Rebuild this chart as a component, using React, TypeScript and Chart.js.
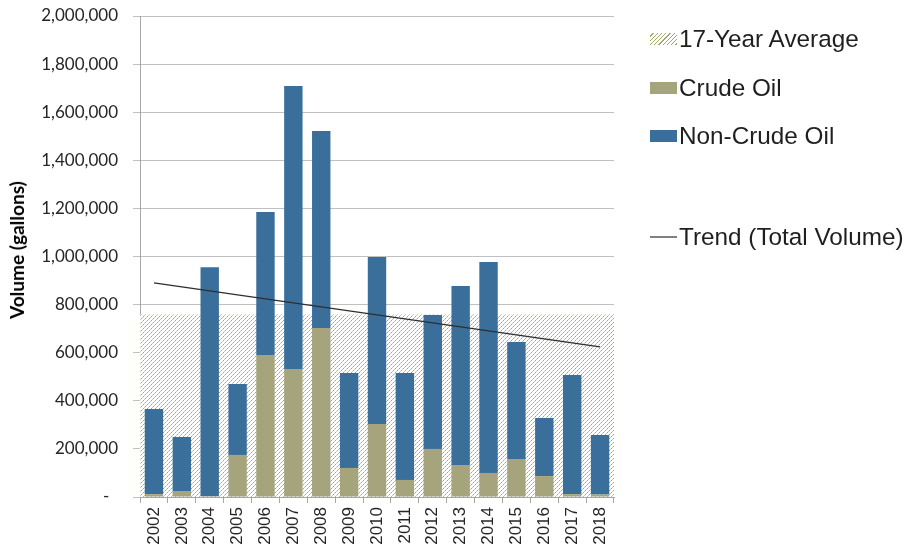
import React, { useEffect, useRef } from "react";
import { Chart, registerables } from "chart.js";

Chart.register(...registerables);

const years = ["2002", "2003", "2004", "2005", "2006", "2007", "2008", "2009", "2010", "2011", "2012", "2013", "2014", "2015", "2016", "2017", "2018"];
const crudeOil = [12000, 25000, 3000, 175000, 590000, 532000, 703000, 121000, 304000, 71000, 200000, 133000, 100000, 158000, 87000, 12000, 10000];
const nonCrudeOil = [354000, 225000, 952000, 295000, 595000, 1177000, 819000, 395000, 694000, 445000, 557000, 744000, 877000, 486000, 241000, 495000, 248000];
const seventeenYearAverage = 757000;
const trendStart = 890000;
const trendEnd = 624000;
const yTicks = [0, 200000, 400000, 600000, 800000, 1000000, 1200000, 1400000, 1600000, 1800000, 2000000];

const CRUDE = "#a6a47c";
const NONCRUDE = "#3a6f9b";
const HATCH = "#a3a86f";
const HATCH_LIGHT = "#c8cca6";

export default function App() {
  const ref = useRef<HTMLCanvasElement | null>(null);

  useEffect(() => {
    const canvas = ref.current;
    if (!canvas) return;
    const ctx = canvas.getContext("2d")!;
    const tile = document.createElement("canvas");
    tile.width = 4;
    tile.height = 4;
    const t = tile.getContext("2d")!;
    t.fillStyle = "#ffffff";
    t.fillRect(0, 0, 4, 4);
    for (let i = 0; i < 4; i++) {
      t.fillStyle = i % 2 === 0 ? HATCH : HATCH_LIGHT;
      t.fillRect(3 - i, i, 1, 1);
    }
    const pattern = ctx.createPattern(tile, "repeat")!;

    const chart = new Chart(canvas, {
      data: {
        labels: years,
        datasets: [
          {
            type: "bar",
            label: "Crude Oil",
            data: crudeOil,
            backgroundColor: CRUDE,
            stack: "vol",
            order: 1,
            grouped: false,
            barPercentage: 0.66,
            categoryPercentage: 1,
          },
          {
            type: "bar",
            label: "Non-Crude Oil",
            data: nonCrudeOil,
            backgroundColor: NONCRUDE,
            stack: "vol",
            order: 1,
            grouped: false,
            barPercentage: 0.66,
            categoryPercentage: 1,
          },
          {
            type: "bar",
            label: "17-Year Average",
            data: years.map(() => seventeenYearAverage),
            backgroundColor: pattern as any,
            xAxisID: "x2",
            stack: "avg",
            order: 3,
            grouped: false,
            barPercentage: 1,
            categoryPercentage: 1,
          },
          {
            type: "line",
            label: "Trend (Total Volume)",
            data: years.map((_, i) => (i === 0 ? trendStart : i === years.length - 1 ? trendEnd : null)),
            borderColor: "#2e2e2e",
            borderWidth: 1.3,
            pointRadius: 0,
            spanGaps: true,
            order: 0,
          },
        ],
      } as any,
      options: {
        responsive: false,
        animation: false,
        devicePixelRatio: 1,
        layout: { padding: { left: 0, top: 16, right: 299, bottom: 0 } },
        plugins: { legend: { display: false }, tooltip: { enabled: false } },
        scales: {
          x: {
            type: "category",
            stacked: true,
            offset: true,
            afterFit: (s: any) => {
              s.height = 55;
            },
            grid: {
              offset: true,
              drawOnChartArea: false,
              drawTicks: true,
              tickLength: 6,
              color: "#a6a6a6",
            },
            border: { color: "#a6a6a6" },
            ticks: {
              minRotation: 90,
              maxRotation: 90,
              autoSkip: false,
              padding: 4,
              color: "#262626",
              font: { family: "'Liberation Sans', Arial, sans-serif", size: 17 },
            },
          },
          x2: {
            type: "category",
            labels: years,
            stacked: true,
            offset: true,
            display: false,
            grid: { display: false },
          },
          y: {
            stacked: true,
            min: 0,
            max: 2000000,
            afterFit: (s: any) => {
              s.width = 140;
              s.paddingTop = 0;
              s.paddingBottom = 0;
            },
            afterBuildTicks: (s: any) => {
              s.ticks = yTicks.map((v) => ({ value: v }));
            },
            grid: { color: "#c0c0c0", tickLength: 7, lineWidth: 1 },
            border: { color: "#a6a6a6" },
            ticks: {
              padding: 15,
              color: "#262626",
              font: { family: "Lato, 'Open Sans', sans-serif", size: 17 },
              callback: (v: any) => (Number(v) === 0 ? "-  " : Number(v).toLocaleString("en-US")),
            },
            title: { display: false },
          },
        },
      } as any,
    });
    return () => chart.destroy();
  }, []);

  const legendFont: React.CSSProperties = {
    fontFamily: "'Liberation Sans', Arial, sans-serif",
    fontSize: 24.3,
    color: "#1f1f1f",
    lineHeight: "28px",
    whiteSpace: "nowrap",
  };
  const row = (top: number): React.CSSProperties => ({
    position: "absolute",
    left: 650,
    top,
    display: "flex",
    alignItems: "center",
    ...legendFont,
  });
  const sw = (bg: string): React.CSSProperties => ({
    width: 27,
    height: 12,
    background: bg,
    marginRight: 2,
    flex: "none",
  });

  return (
    <div style={{ position: "fixed", left: 0, top: 0, width: 913, height: 552, background: "#fff" }}>
      <canvas ref={ref} width={913} height={552} style={{ display: "block", width: 913, height: 552 }} />
      <div
        style={{
          position: "absolute",
          left: 17,
          top: 250,
          transform: "translate(-50%, -50%) rotate(-90deg)",
          fontFamily: "Lato, 'Open Sans', sans-serif",
          fontWeight: "bold",
          fontSize: 19,
          lineHeight: "22px",
          color: "#000",
          whiteSpace: "nowrap",
        }}
      >
        Volume (gallons)
      </div>
      <div style={row(25)}>
        <span style={sw(`repeating-linear-gradient(135deg, #ffffff 0px, #ffffff 2px, ${HATCH} 2px, ${HATCH} 3px)`)} />
        <span>17-Year Average</span>
      </div>
      <div style={row(74)}>
        <span style={sw(CRUDE)} />
        <span>Crude Oil</span>
      </div>
      <div style={row(122)}>
        <span style={sw(NONCRUDE)} />
        <span>Non-Crude Oil</span>
      </div>
      <div style={row(223)}>
        <span style={{ width: 27, height: 1.5, background: "#808080", marginRight: 2, flex: "none" }} />
        <span>Trend (Total Volume)</span>
      </div>
    </div>
  );
}
